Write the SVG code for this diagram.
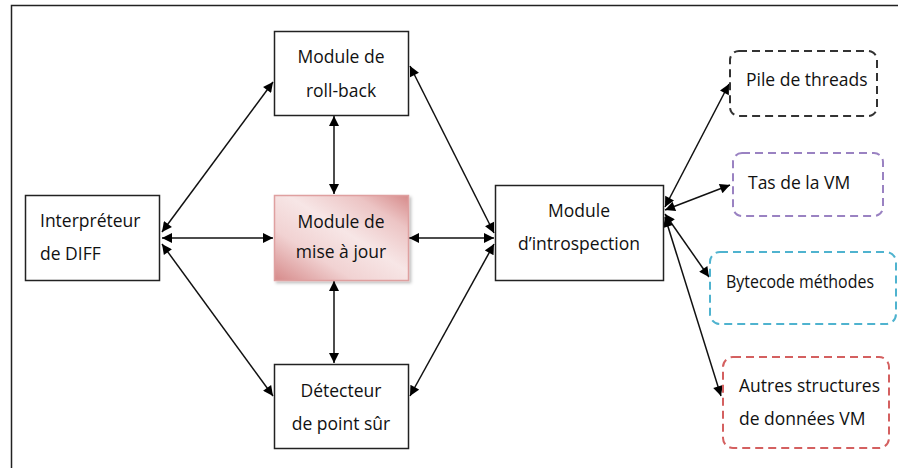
<svg xmlns="http://www.w3.org/2000/svg" width="898" height="468" viewBox="0 0 898 468">
<style>
text{font-family:"Open Sans","Liberation Sans",sans-serif;font-size:17.5px;fill:#111}
.c{text-anchor:middle}
.box{fill:#fff;stroke:#222;stroke-width:1.5}
.dash{fill:#fff;stroke-width:2;stroke-dasharray:8 5}
.con line{stroke:#111;stroke-width:1.5;marker-start:url(#ah);marker-end:url(#ah)}
</style>
<defs>
<marker id="ah" viewBox="0 0 10 10" refX="10" refY="5" markerWidth="12" markerHeight="10" markerUnits="userSpaceOnUse" orient="auto-start-reverse">
<path d="M0,0 L10,5 L0,10 z" fill="#000"/>
</marker>
<linearGradient id="pink" x1="0" y1="1" x2="1" y2="0">
<stop offset="0" stop-color="#d68a8a"/>
<stop offset="0.3" stop-color="#f1d2d2"/>
<stop offset="0.55" stop-color="#f7e6e6"/>
<stop offset="0.8" stop-color="#ecc4c4"/>
<stop offset="1" stop-color="#d68a8a"/>
</linearGradient>
<filter id="sh" x="-10%" y="-10%" width="130%" height="130%">
<feDropShadow dx="2" dy="2" stdDeviation="1.5" flood-color="#000" flood-opacity="0.25"/>
</filter>
</defs>
<rect width="898" height="468" fill="#fff"/>
<path d="M900 5.5 H11.5 V470" fill="none" stroke="#222" stroke-width="1.5"/>

<g class="con" id="connectors">
<line x1="162" y1="232" x2="273" y2="82"/>
<line x1="162" y1="238" x2="273" y2="238"/>
<line x1="162" y1="244" x2="273" y2="396"/>
<line x1="334" y1="116" x2="334" y2="194"/>
<line x1="334" y1="281" x2="334" y2="363"/>
<line x1="409" y1="238" x2="494" y2="238"/>
<line x1="410" y1="66" x2="494" y2="233"/>
<line x1="410" y1="396" x2="494" y2="244"/>
<line x1="665" y1="207" x2="729" y2="84"/>
<line x1="665" y1="210" x2="730" y2="185"/>
<line x1="665" y1="214" x2="709" y2="277"/>
<line x1="665" y1="217" x2="721" y2="396"/>
</g>

<g id="rollback">
<rect class="box" x="274.5" y="31.5" width="134" height="84"/>
<text class="c" x="341" y="63">Module de</text>
<text class="c" x="341" y="97">roll-back</text>
</g>
<g id="interpreteur">
<rect class="box" x="25.5" y="195.5" width="134" height="85"/>
<text x="40" y="227">Interpréteur</text>
<text x="40" y="260">de DIFF</text>
</g>
<g id="misejour">
<rect x="274.5" y="195.5" width="134" height="85" fill="url(#pink)" stroke="#dfa0a0" stroke-width="1.5" filter="url(#sh)"/>
<text class="c" x="341" y="228">Module de</text>
<text class="c" x="341" y="258">mise à jour</text>
</g>
<g id="detecteur">
<rect class="box" x="274.5" y="364.5" width="134" height="84"/>
<text class="c" x="341" y="397">Détecteur</text>
<text class="c" x="341" y="430">de point sûr</text>
</g>
<g id="introspection">
<rect class="box" x="495.5" y="185.5" width="168" height="95"/>
<text class="c" x="579" y="217">Module</text>
<text class="c" x="579" y="250">d’introspection</text>
</g>
<g id="pile">
<rect class="dash" x="730" y="51" width="147" height="65" rx="9" stroke="#333"/>
<text x="746" y="86">Pile de threads</text>
</g>
<g id="tas">
<rect class="dash" x="733" y="153" width="150" height="63" rx="9" stroke="#9a82c2"/>
<text x="748" y="189">Tas de la VM</text>
</g>
<g id="bytecode">
<rect class="dash" x="710" y="252" width="186" height="72" rx="10" stroke="#4fb3cf"/>
<text x="726" y="288" textLength="148" lengthAdjust="spacingAndGlyphs">Bytecode méthodes</text>
</g>
<g id="autres">
<rect class="dash" x="723" y="357" width="166" height="91" rx="10" stroke="#d46060"/>
<text x="739" y="392">Autres structures</text>
<text x="739" y="425">de données VM</text>
</g>
</svg>
